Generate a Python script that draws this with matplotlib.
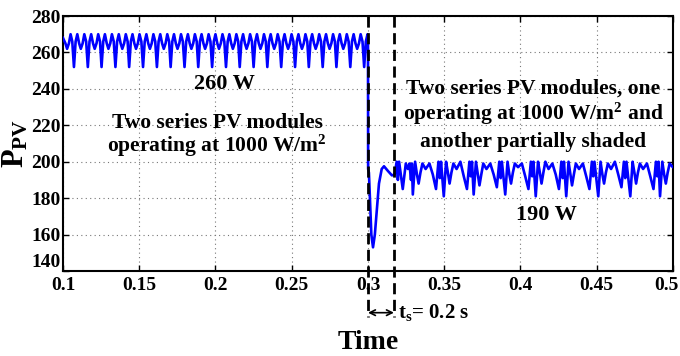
import matplotlib
matplotlib.use("Agg")
import matplotlib.pyplot as plt
from matplotlib.transforms import ScaledTranslation

plt.rcParams['font.family'] = ['Liberation Serif', 'DejaVu Serif']
plt.rcParams['font.weight'] = 'bold'
plt.rcParams['axes.labelweight'] = 'bold'
plt.rcParams['mathtext.fontset'] = 'custom'
plt.rcParams['mathtext.rm'] = 'Liberation Serif:bold'
plt.rcParams['mathtext.it'] = 'Liberation Serif:bold'
plt.rcParams['mathtext.bf'] = 'Liberation Serif:bold'

# ---- data ----
# before shading: ripple cycles, one deep dip per cycle
seg1_start_t = [0.1, 0.1016, 0.1027, 0.1039, 0.105, 0.1061]
seg1_start_p = [268, 265, 262, 265, 270, 266]
seg1_dips = [0.1072, 0.1163, 0.1253, 0.1344, 0.1434, 0.1525, 0.1616, 0.1706,
             0.1797, 0.1887, 0.1978, 0.2069, 0.2159, 0.2250, 0.2340, 0.2431,
             0.2522, 0.2612, 0.2703, 0.2793, 0.2884, 0.2975]
seg1_phase = [0.0, 0.0011, 0.0022, 0.0034, 0.0045, 0.0057, 0.0068, 0.0080]
seg1_cycle = [252, 266, 270, 265, 262, 265, 270, 266]

# step change at t = 0.3
trans_t = [0.2997, 0.3, 0.3001, 0.3006, 0.3009, 0.3022, 0.3033, 0.3045, 0.3072,
           0.309, 0.3105, 0.313, 0.3157, 0.3175, 0.3188, 0.3196, 0.3204, 0.3228,
           0.3248, 0.3262, 0.3272, 0.3282, 0.3288]
trans_p = [270, 268, 196, 194, 188, 160, 153, 160, 188,
           196, 197.5, 195, 192.5, 193, 200, 190, 200, 185,
           199, 196, 199, 190, 199]

# after shading: 50 Hz ripple cycles
seg2_dips = [0.3294, 0.3497, 0.3693, 0.3900, 0.4100, 0.4300, 0.4510, 0.4720, 0.4915]
seg2_phase = [0.0, 0.0015, 0.0027, 0.0038, 0.0050, 0.0063, 0.0084, 0.0109,
              0.0131, 0.0152, 0.0168, 0.0177, 0.0185]
seg2_cycles = [
    [182, 200, 193, 188, 194, 199, 196, 199, 193, 185, 200, 191, 200],
    [181, 200, 194, 188, 194, 199, 196, 200, 192, 185, 200, 192, 200],
    [182, 200, 193, 187, 193, 199, 196, 199, 193, 186, 200, 191, 200],
    [182, 200, 193, 188, 194, 199, 197, 199, 192, 185, 200, 192, 200],
    [181, 200, 194, 188, 194, 200, 196, 199, 193, 185, 200, 191, 200],
    [181, 200, 193, 187, 193, 199, 196, 199, 192, 185, 200, 192, 200],
    [181, 200, 193, 188, 194, 199, 196, 200, 193, 186, 200, 191, 200],
    [181, 200, 194, 188, 194, 199, 196, 199, 192, 185, 200, 192, 200],
    [181, 200, 193, 188, 194, 199, 197, 199, 193, 185, 200, 191, 200],
]
tail_t = [0.5]
tail_p = [197]

t_step = 0.3
t_settle = 0.317

t = list(seg1_start_t)
p = list(seg1_start_p)
for d in seg1_dips:
    for ph, v in zip(seg1_phase, seg1_cycle):
        if d + ph < trans_t[0]:
            t.append(d + ph)
            p.append(v)
t += trans_t
p += trans_p
for d, cyc in zip(seg2_dips, seg2_cycles):
    for ph, v in zip(seg2_phase, cyc):
        if d + ph < tail_t[0]:
            t.append(d + ph)
            p.append(v)
t += tail_t
p += tail_p

fig = plt.figure(figsize=(6.8, 3.56), dpi=100)
ax = fig.add_axes([0.0926, 0.2388, 0.8971, 0.7162])

ax.plot(t, p, color='#0000ff', lw=1.9, zorder=3)

ax.set_xlim(0.1, 0.5)
ax.set_ylim(140, 280)
ax.set_xticks([0.1, 0.15, 0.2, 0.25, 0.3, 0.35, 0.4, 0.45, 0.5])
ax.set_xticklabels(['0.1', '0.15', '0.2', '0.25', '0.3', '0.35', '0.4', '0.45', '0.5'])
ax.set_yticks(range(140, 281, 20))
ax.tick_params(direction='in', top=True, right=True, length=4, width=1,
               labelsize=14, pad=4)
ax.tick_params(axis='y', pad=2)
for s in ax.spines.values():
    s.set_linewidth(1.5)
ax.grid(True, color='#777777', linestyle=(0, (1, 3)), lw=0.8)

# keep the last x label inside the figure, lift the lowest y label (as in the original)
last = ax.get_xticklabels()[-1]
last.set_transform(last.get_transform() + ScaledTranslation(-5 / 72, 0, fig.dpi_scale_trans))
ax.get_yticklabels()[0].set_verticalalignment('bottom')

# dashed markers for step and settling
for xv in [t_step, t_settle]:
    ax.plot([xv, xv], [280, 114.7], color='k', lw=2, linestyle=(0, (4, 2)),
            clip_on=False, zorder=4)

ax.annotate('', xy=(t_step, 117.1), xytext=(t_settle, 117.1),
            arrowprops=dict(arrowstyle='<->', lw=1.2, color='k',
                            shrinkA=0, shrinkB=0),
            annotation_clip=False)
ax.text(0.3195, 117.3, r'$\mathrm{t_s}$= 0.2 s', fontsize=15, va='center',
        ha='left', clip_on=False)

ax.text(0.2059, 239.7, '260 W', fontsize=16, ha='center', va='baseline')
ax.text(0.201, 218.3, 'Two series PV modules', fontsize=15.5, ha='center', va='baseline')
ax.text(0.201, 205.5, r'operating at 1000 W/m$^\mathrm{2}$', fontsize=15.5,
        ha='center', va='baseline')

ax.text(0.4085, 237.5, 'Two series PV modules, one', fontsize=15.5, ha='center', va='baseline')
ax.text(0.4085, 222.9, r'operating at 1000 W/m$^\mathrm{2}$ and', fontsize=15.5,
        ha='center', va='baseline')
ax.text(0.4085, 208.2, 'another partially shaded', fontsize=15.5, ha='center', va='baseline')
ax.text(0.4167, 168, '190 W', fontsize=16, ha='center', va='baseline')

ax.set_ylabel(r'P$_\mathrm{PV}$', fontsize=22, labelpad=0)
ax.set_xlabel('Time', fontsize=20, labelpad=26)

fig.savefig('out.png', dpi=100)
